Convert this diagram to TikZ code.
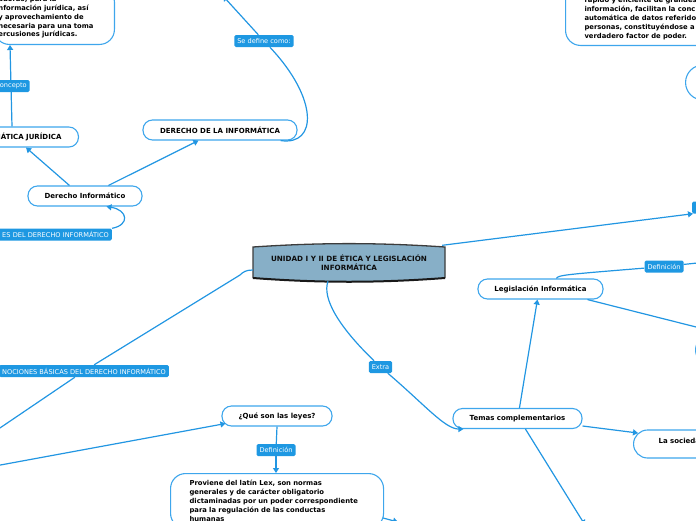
\documentclass[tikz,border=0pt]{standalone}
\usepackage{fontspec}
\setmainfont{DejaVu Sans}
\usetikzlibrary{arrows.meta}
\definecolor{lineblue}{RGB}{34,150,226}
\definecolor{nodeblue}{RGB}{62,166,236}
\definecolor{lblblue}{RGB}{30,152,226}
\definecolor{centfill}{RGB}{135,175,199}
\definecolor{centedge}{RGB}{60,60,60}
\newcommand{\mmNode}{\bfseries\fontsize{7}{8.4}\selectfont}
\newcommand{\mmBox}{\bfseries\fontsize{6.8}{8.8}\selectfont}
\newcommand{\mmLbl}{\fontsize{6.6}{7.6}\selectfont}
\newcommand{\mmCent}{\bfseries\fontsize{7.2}{8.5}\selectfont}
\begin{document}
\begin{tikzpicture}[x=1pt,y=-1pt,
  topic/.style={draw=nodeblue, line width=1.1pt, fill=white, rounded corners=9.5pt,
    font=\mmNode, text=black, minimum height=20pt, inner sep=0pt},
  tbox/.style={draw=nodeblue, line width=1.1pt, fill=white, rounded corners=15pt,
    font=\mmBox, text=black, align=left, inner ysep=6pt},
  lbl/.style={fill=lblblue, text=white, font=\mmLbl, rounded corners=1.5pt,
    inner xsep=3pt, inner ysep=0pt, minimum height=12pt},
  conn/.style={draw=lineblue, line width=1.2pt},
  arr/.style={conn, -{Triangle[width=6pt,length=5pt]}},
]
\useasboundingbox (0,0) rectangle (696,520);
\clip (0,0) rectangle (696,520);

% central node shape
\fill[centfill] (253,247) .. controls (320,242.5) and (378,242.5) .. (445,247)
  -- (445,278) .. controls (378,283) and (320,283) .. (253,278) -- cycle;
\draw[centedge, line width=1.3pt] (253,278) -- (253,247)
  .. controls (320,242.5) and (378,242.5) .. (445,247) -- (445,278);
\draw[black!90, line width=2pt] (253,278) .. controls (320,283) and (378,283) .. (445,278);
\node[font=\mmCent, text=black!95, align=center, inner sep=0pt,
  minimum width=192pt, minimum height=34pt] (cent) at (349,262.5)
  {UNIDAD I Y II DE ÉTICA Y LEGISLACIÓN\\INFORMÁTICA};

% topic nodes
\node[topic, minimum width=154pt] (dli) at (220,130) {DERECHO DE LA INFORMÁTICA};
\node[topic, minimum width=114pt] (di) at (85,196) {Derecho Informático};
\node[topic, inner xsep=17pt, anchor=east] (ij) at (79,137) {INFORMÁTICA JURÍDICA};
\node[topic, minimum width=110pt] (qs) at (277,416) {¿Qué son las leyes?};
\node[topic, minimum width=129pt] (temas) at (517.5,418.5) {Temas complementarios};
\node[topic, minimum width=125pt] (legis) at (540.5,289) {Legislación Informática};
\node[topic, anchor=west, minimum height=28pt, rounded corners=14pt, inner xsep=25pt,
  text depth=7pt] (soc) at (633,444) {La sociedad};
\node[topic, anchor=west, minimum height=35pt, minimum width=60pt,
  rounded corners=17.5pt] (rnode) at (685,82.5) {};
\node[topic, anchor=west, minimum height=30pt, minimum width=60pt,
  rounded corners=15pt] (rnodeb) at (695,350) {};

% text boxes
\node[tbox, anchor=south east, text width=112pt, inner xsep=4pt] (tlbox) at (115,45)
  {\mbox{}\\adoras) para la\\nformación jurídica, así\\y aprovechamiento de\\necesaria para una toma\\ercusiones jurídicas.};
\node[tbox, anchor=south west, text width=150pt, inner xsep=19pt] (trbox) at (565,46)
  {\mbox{}\\\mbox{}\\rápido y eficiente de grandes\\información, facilitan la conc\\automática de datos referido\\personas, constituyéndose a\\verdadero factor de poder.};
\node[tbox, anchor=north west, text width=175pt, inner xsep=19pt, inner ysep=7pt] (prov) at (170,473)
  {Proviene del latín Lex, son normas\\generales y de carácter obligatorio\\dictaminadas por un poder correspondiente\\para la regulación de las conductas\\humanas};

% labels
\node[lbl] (lDefA) at (264,41) {Se define como:};
\node[lbl] (lCon) at (11,86) {Concepto};
\node[lbl, anchor=east, text width=120pt, align=right] (lFue) at (112,234.5) {ES DEL DERECHO INFORMÁTICO};
\node[lbl, anchor=west] (lNoc) at (-1,371) {NOCIONES BÁSICAS DEL DERECHO INFORMÁTICO};
\node[lbl] (lDefB) at (276,450) {Definición};
\node[lbl] (lExt) at (380.5,367) {Extra};
\node[lbl] (lDefC) at (664,266.5) {Definición};
\node[lbl, anchor=west, minimum width=100pt] (lR) at (692,207.5) {};

% free ends
\coordinate (dtop) at (223,-4);
\coordinate (offN) at (-6,432);
\coordinate (offQ) at (-5,466);
\coordinate (offD) at (702,262.5);
\coordinate (offL) at (702,328.5);
\coordinate (offT) at (585,525);
\coordinate (offP) at (398,522);
\coordinate (yb) at (0,518);

% connectors
\draw[arr] ([xshift=42pt]di.north west) -- ([xshift=-53pt]ij.south east);
\draw[arr] ([xshift=81pt]di.north west) -- ([xshift=56pt]dli.south west);
\draw[conn] ([xshift=-67pt]ij.north east) -- (lCon);
\draw[arr] (lCon) -- ([xshift=-105pt]tlbox.south east);
\draw[conn] ([xshift=-17pt]dli.south east) .. controls (318,146) and (318,98) .. (lDefA);
\draw[arr] (lDefA) -- (dtop);
\draw[arr] (lFue.north east) .. controls (130,225) and (128,210) .. ([xshift=79pt]di.south west);
\draw[conn] ([yshift=-7.5pt]cent.west) .. controls (246,270) and (243,272) .. (240,275) -- (lNoc);
\draw[arr] (lNoc) -- (offN);
\draw[arr] (offQ) -- ([xshift=4pt,yshift=3pt]qs.south west);
\draw[conn] (qs.south) -- (lDefB);
\draw[arr] (lDefB) -- ([xshift=106pt]prov.north west);
\draw[conn] ([xshift=-21pt,yshift=-1.5pt]cent.south) .. controls (322,298) and (338,326) .. (lExt);
\draw[arr] (lExt) .. controls (425,405) and (445,429) .. ([xshift=11pt]temas.south west);
\draw[arr] ([xshift=67pt]temas.north west) -- ([xshift=60pt]legis.south west);
\draw[conn] ([xshift=79pt]legis.north west) .. controls (558,275) and (566,274.5) .. (lDefC);
\draw[arr] (lDefC) -- (offD);
\draw[arr] ([xshift=110pt]legis.south west) -- (offL);
\draw[arr] ([yshift=-7.5pt]temas.east) -- ([xshift=5pt,yshift=11pt]soc.west);
\draw[arr] ([xshift=73pt]temas.south west) -- (offT);
\draw[arr] ([xshift=-3pt]cent.north east) -- (lR);
\draw[arr] ([xshift=-1pt]prov.east |- yb) -- (offP);
\end{tikzpicture}
\end{document}
